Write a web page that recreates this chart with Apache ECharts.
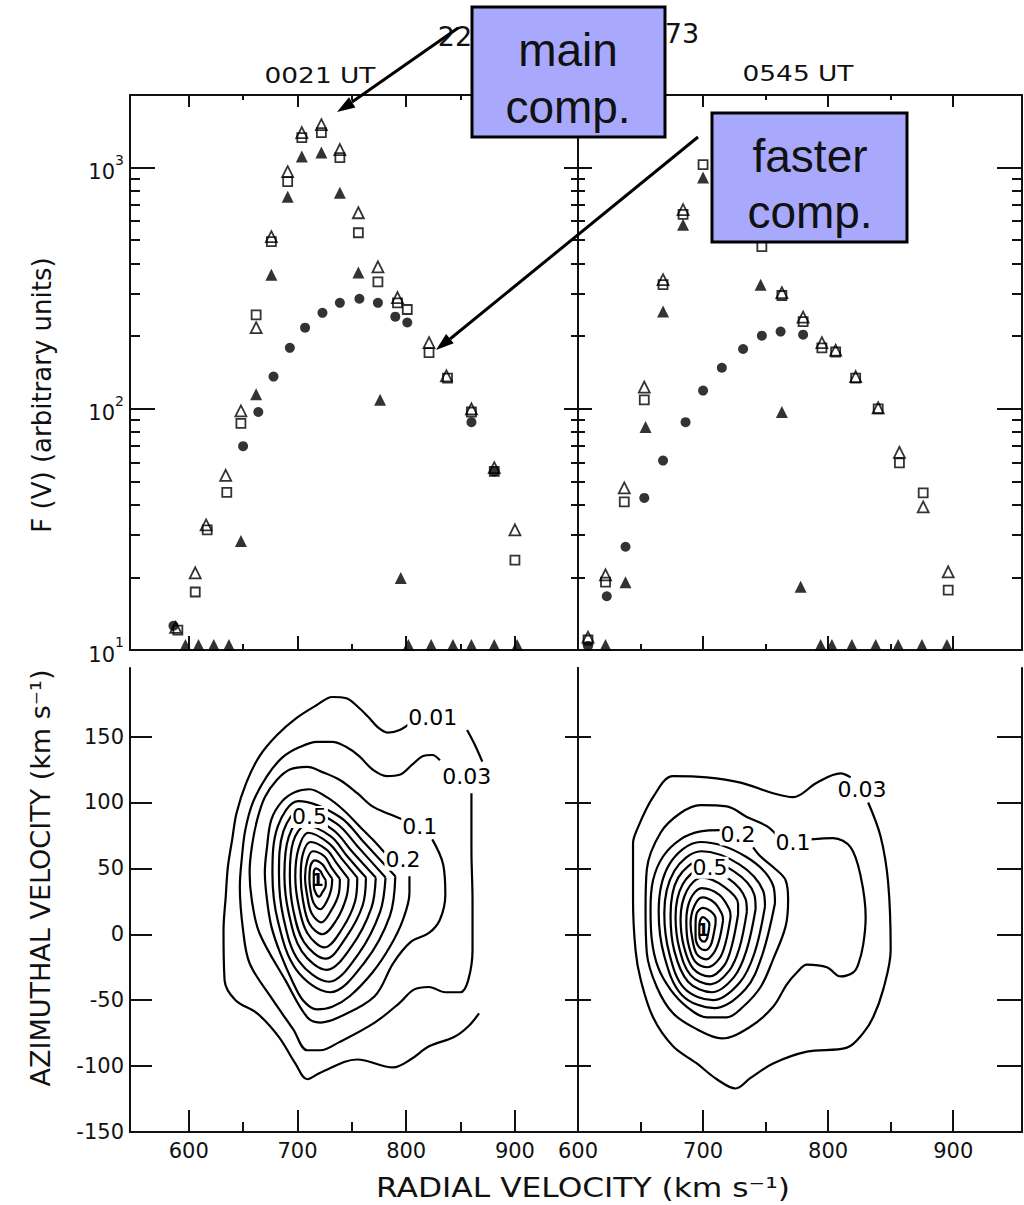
<!DOCTYPE html>
<html><head><meta charset="utf-8">
<script src="https://cdn.jsdelivr.net/npm/echarts@6/dist/echarts.min.js"></script>
<style>html,body{margin:0;padding:0;background:#fff}#c{width:1024px;height:1205px}</style>
</head><body><div id="c"></div>
<script>
// ---------- tick values / labels ----------
const xTicksMajor = [600, 700, 800, 900];
const xTicksMinor = [650, 750, 850];
const topYMajor = [10, 100, 1000];
const topYMinor = [20,30,40,50,60,70,80,90,200,300,400,500,600,700,800,900];
const topYExp = ['1', '2', '3'];
const bottomYTicks = [-150, -100, -50, 0, 50, 100, 150];

// ---------- top-left (0021 UT) F(V) ----------
const tlOpenTri = [[588,12.4],[606,20.9],[616,33],[634,53],[648,98],[662,217],[676,517],[691,962],[704,1397],[722,1507],[739,1188],[756,650],[774,388],[792,289],[821,188],[837,137],[860,100],[881,57],[900,31.5]];
const tlOpenSq = [[590,12.1],[606,17.4],[617,31.5],[635,45],[648,87],[662,245],[676,493],[691,875],[704,1331],[722,1397],[739,1099],[756,537],[774,336],[792,275],[801,258],[821,171],[838,134],[860,97],[881,55],[900,23.6]];
const tlFillTri = [[597,10.5],[609,10.5],[623,10.5],[637,10.5],[648,28.3],[662,115],[676,360],[691,758],[704,1111],[722,1154],[739,787],[756,367],[776,109],[795,19.9],[802,10.5],[823,10.5],[843,10.5],[860,10.5],[881,10.5],[902,10.5]];
const tlFillCirc = [[586,12.6],[650,70],[664,97],[678,136],[693,179],[707,217],[723,250],[739,275],[757,286],[774,275],[790,241],[801,228],[860,88],[881,55]];

// ---------- top-right (0545 UT) F(V) ----------
const trOpenTri = [[608,11.3],[622,20.5],[637,47],[653,123],[668,343],[684,669],[763,303],[780,240],[795,188],[806,175],[822,136],[840,101],[857,66],[876,39.2],[896,21.1]];
const trOpenSq = [[608,11],[622,19.1],[637,41.1],[653,109],[668,327],[684,640],[700,1028],[747,470],[763,295],[780,230],[795,179],[806,172],[822,134],[840,100],[857,59.7],[876,44.8],[896,17.7]];
const trFillTri = [[622,10.5],[638,19.1],[654,84],[668,253],[684,580],[700,909],[746,327],[763,97],[778,18.3],[794,10.5],[803,10.5],[819,10.5],[838,10.5],[856,10.5],[875,10.5],[895,10.5]];
const trFillCirc = [[608,10.4],[623,16.7],[638,26.8],[653,42.7],[668,61],[686,88],[700,119],[715,148],[732,177],[747,201],[762,209],[780,203]];

// ---------- bottom-left contours (radial, azimuthal) ----------
const blC001 = [[805,161],[794,155],[783,153],[774,157],[765,165],[755,173],[745,179],[732,180],[718,174],[699,164],[681,151],[665,135],[653,115],[644,92],[640,72],[636,51],[634,28],[632,3],[633,-35],[643,-50],[663,-60],[683,-78],[698,-98],[709,-110],[721,-105],[755,-95],[788,-101],[804,-95],[821,-85],[844,-78],[857,-70],[867,-60]];
const blC001b = [[856,155],[863,144],[870,131]];
const blC003 = [[831,132],[824,136],[815,135],[806,129],[794,121],[782,120],[769,125],[757,135],[745,142],[732,146],[718,146],[702,142],[686,134],[672,120],[659,100],[652,79],[649,59],[647,36],[650,3],[656,-22],[675,-47],[696,-72],[709,-88],[721,-88],[738,-82],[771,-67],[794,-52],[807,-42],[821,-40],[836,-44],[850,-44],[857,-35],[861,-12],[861,26],[860,64],[860,107]];
const blC01 = [[797,87],[785,91],[769,97],[755,107],[739,117],[723,123],[709,127],[693,125],[681,117],[670,104],[663,87],[658,66],[656,47],[658,26],[665,1],[689,-35],[709,-63],[721,-67],[738,-63],[771,-47],[788,-22],[804,-6],[821,1],[831,11],[836,30],[834,53],[824,72]];
const blC02 = [[780,62],[769,72],[757,82],[742,94.5],[727,104],[711,110],[698,108],[686,101],[676,87],[672,66],[670,47],[672,26],[676,6],[684,-14],[695,-35],[705,-50],[718,-57],[732,-55],[748,-47],[769,-29],[785,-9.5],[797,11],[803,31.5],[803,44]];
const blInner = [
 [[726,41],[726,37],[723,32],[720,28.5],[717,31],[715,36.5],[715,42],[715,47],[717,50],[721,48],[723,45],[726,41]],
 [[732,42],[731,34],[727,25],[721,19],[715,23.5],[712,33],[711,42],[712,52],[716,56],[723,53],[727,48],[732,42]],
 [[739,42],[738,31],[731,18],[722,9],[713,16],[709,29],[707,43],[709,56],[714,63],[725,59],[731,51],[739,42]],
 [[747,42],[745,28],[736,11],[723,0],[711,8],[705,26],[703,44],[705,61],[712,70],[727,64],[736,54],[747,42]],
 [[755,43],[753,25],[741,4],[725,-10],[709,1],[701,22],[698,44],[701,65],[710,77],[729,69],[741,57],[755,43]],
 [[763,43],[760,22],[745,-2],[726,-18.5],[706,-6],[696,19],[693,45],[696,70],[708,82.5],[731,74],[745,60],[763,43]],
 [[772,43],[768,20],[750,-9],[727,-27],[704,-13],[692,16],[688,45],[692,74],[706,89],[733,79],[750,63],[772,43]],
 [[781,43],[776,17],[756,-15],[729,-36],[701,-20],[687,13],[683,46],[687,78],[704,95],[736,84],[756,66],[781,43]],
 [[790,44],[785,14],[762,-21],[730,-44],[699,-27],[682,10],[677,46],[682,82],[701,101],[739,89],[762,69],[790,44]]
];
const blLabels = [[824.5,164.4,'0.01'],[855.7,119.6,'0.03'],[812.5,81.6,'0.1'],[797,56.6,'0.2'],[711,89,'0.5']];
const blPeak = [[718.7,41,'1']];

// ---------- bottom-right contours ----------
const brC003 = [[832,100],[842,74],[848,39],[850,-12],[844,-42],[836,-63],[828,-75],[815,-86],[783,-89],[756,-98],[738,-109],[726,-117],[711,-110],[695,-98],[676,-85],[660,-63],[650,-34],[646,-12],[644,26],[644,69],[647,79],[660,104],[676,120],[703,119],[730,115],[756,107],[772,104],[791,115],[810,122],[818,119]];
const brC01 = [[786,72],[804,73],[818,66],[826,44],[830,13],[828,-8],[824,-23],[820,-29],[810,-32],[799,-25],[783,-23],[775,-29],[767,-38],[756,-55],[738,-70],[715,-79],[695,-72],[676,-60],[663,-40],[655,-14],[654,19],[655,49],[666,77],[682,92],[698,98],[719,97],[735,89],[751,82],[759,75]];
const brC02 = [[714,79],[698,78],[682,72],[668,59],[660,41],[658,19],[659,-4],[664,-25],[674,-42],[687,-55],[703,-63],[719,-63],[732,-55],[746,-40],[756,-19],[766,6],[768,26],[766,41],[756,51],[746,59],[740,66]];
const brInner = [
 [[705,6],[704,0],[703,-3.5],[701,-5.6],[698,-4],[697,0],[697,5],[697.5,10],[700,13],[703,11],[705,8],[705,6]],
 [[710,8],[708,-2],[706,-8.5],[702,-12],[697,-10],[694,-2],[694,7],[695,16],[700,20],[706,17.5],[710,12],[710,8]],
 [[716,10.6],[713,-4],[709,-13.5],[702.5,-19],[695,-15],[691.5,-4],[690,8],[693,21.5],[699.5,28],[709,24],[715,15.5],[716,10.6]],
 [[722,13],[718,-6.5],[713,-18.5],[703.5,-25],[693.6,-20.7],[688,-6.5],[686.6,10],[690,27],[699,35],[712.8,30],[721,19],[722,13]],
 [[728,15],[723,-8.7],[717,-23.5],[705,-32],[692,-26],[684.5,-8.7],[682,11.5],[687,33],[699,43],[717,36],[728,23],[728,15]],
 [[735,17],[729,-10.6],[720.6,-28],[706,-38],[690,-31],[681,-10.6],[678,13],[683.6,37.7],[699,49.5],[720.6,42],[734,26.6],[735,17]],
 [[742,19],[734.6,-12.6],[724.7,-32.5],[707,-44],[688,-36],[677,-12.6],[674,14.4],[680,42.8],[699,56],[724.7,47.7],[741,30],[742,19]],
 [[749.5,21],[741,-14.6],[729,-37],[708,-50],[685,-41],[673,-14.6],[669,16],[677,48],[698.5,63],[729,53],[748,33],[749.5,21]],
 [[757.5,23.5],[747,-16.6],[734,-41.5],[709,-56],[683,-46],[669,-16.6],[664.5,17],[673,53],[698,70],[734,59],[756,37],[757.5,23.5]]
];
const brLabels = [[827,109.7,'0.03'],[772,69.6,'0.1'],[728,75.6,'0.2'],[705.6,50.5,'0.5']];
const brPeak = [[700,3.4,'1']];

// ---------- layout ----------
const FONT = 'DejaVu Sans';
const LEFT_X = [546, 958], RIGHT_X = [600, 955];
const TOP_Y = [10, 2000], BOT_Y = [-150, 202];

const grids = [
  {left:130, top:95, width:448, height:555},
  {left:578, top:95, width:444, height:555},
  {left:130, top:668, width:448, height:464},
  {left:578, top:668, width:444, height:464}
].map(g => Object.assign({containLabel:false, outerBoundsMode:'none'}, g));

function mkAxis(gridIndex, position, range, o) {
  o = o || {};
  const a = {
    type: o.type || 'value', gridIndex, position, min: range[0], max: range[1],
    axisLine: {show: !!o.line, onZero:false, lineStyle: {color:'#111', width:2}},
    axisTick: {show: !!o.ticks, inside: true, length: o.len || 10, lineStyle: {color:'#111', width:2}},
    axisLabel: {show: !!o.labels, color:'#111', fontSize:21, fontFamily:FONT, margin: o.margin || 8},
    splitLine: {show:false}, minorTick: {show:false}, minorSplitLine:{show:false}
  };
  if (o.type === 'log') a.logBase = 10;
  if (o.ticks) a.axisTick.customValues = o.ticks;
  if (o.labels) a.axisLabel.customValues = o.labels;
  if (o.fmt) a.axisLabel.formatter = o.fmt;
  if (o.rich) a.axisLabel.rich = o.rich;
  return a;
}

const xAxis = [
  mkAxis(0,'bottom',LEFT_X,{line:true,ticks:xTicksMajor,len:14}),
  mkAxis(0,'bottom',LEFT_X,{ticks:xTicksMinor,len:6}),
  mkAxis(0,'top',LEFT_X,{line:true,ticks:xTicksMajor,len:12}),
  mkAxis(0,'top',LEFT_X,{ticks:xTicksMinor,len:5}),
  mkAxis(1,'bottom',RIGHT_X,{line:true,ticks:xTicksMajor,len:14}),
  mkAxis(1,'bottom',RIGHT_X,{ticks:xTicksMinor,len:6}),
  mkAxis(1,'top',RIGHT_X,{line:true,ticks:xTicksMajor,len:12}),
  mkAxis(1,'top',RIGHT_X,{ticks:xTicksMinor,len:5}),
  mkAxis(2,'bottom',LEFT_X,{line:true,ticks:xTicksMajor,labels:xTicksMajor,len:22,margin:8}),
  mkAxis(2,'bottom',LEFT_X,{ticks:xTicksMinor,len:10}),
  mkAxis(3,'bottom',RIGHT_X,{line:true,ticks:xTicksMajor,labels:xTicksMajor,len:22,margin:8}),
  mkAxis(3,'bottom',RIGHT_X,{ticks:xTicksMinor,len:10})
];

const expFmt = v => {
  const i = Math.round(Math.log10(v)) - 1;
  return '{b|10}{s|' + (topYExp[i] || '') + '}';
};
const expRich = {
  b: {fontSize:21, fontFamily:FONT, color:'#111', lineHeight:30, verticalAlign:'bottom'},
  s: {fontSize:14, fontFamily:FONT, color:'#111', lineHeight:14, verticalAlign:'top'}
};

const yAxis = [
  mkAxis(0,'left',TOP_Y,{type:'log',line:true,ticks:topYMajor,labels:topYMajor,fmt:expFmt,rich:expRich,len:25,margin:6}),
  mkAxis(0,'left',TOP_Y,{type:'log',ticks:topYMinor,len:10}),
  mkAxis(0,'right',TOP_Y,{type:'log',line:true,ticks:topYMajor,len:14}),
  mkAxis(0,'right',TOP_Y,{type:'log',ticks:topYMinor,len:7}),
  mkAxis(1,'left',TOP_Y,{type:'log',line:true,ticks:topYMajor,len:14}),
  mkAxis(1,'left',TOP_Y,{type:'log',ticks:topYMinor,len:7}),
  mkAxis(1,'right',TOP_Y,{type:'log',line:true,ticks:topYMajor,len:25}),
  mkAxis(1,'right',TOP_Y,{type:'log',ticks:topYMinor,len:10}),
  mkAxis(2,'left',BOT_Y,{line:true,ticks:bottomYTicks,labels:bottomYTicks,len:22,margin:6}),
  mkAxis(2,'right',BOT_Y,{line:true,ticks:bottomYTicks,len:13}),
  mkAxis(3,'left',BOT_Y,{line:true,ticks:bottomYTicks,len:13}),
  mkAxis(3,'right',BOT_Y,{line:true,ticks:bottomYTicks,len:25})
];

const series = [];
function markers(ax, data, symbol, size, filled) {
  series.push({
    type:'scatter', xAxisIndex:ax, yAxisIndex:ax, data, symbol, symbolSize:size,
    itemStyle: filled ? {color:'#000', borderWidth:0} : {color:'rgba(0,0,0,0)', borderColor:'#000', borderWidth:1.8},
    z: 5, silent:true
  });
}
markers(0, tlOpenSq, 'rect', 9, false);
markers(0, tlOpenTri, 'triangle', 11, false);
markers(0, tlFillTri, 'triangle', 12, true);
markers(0, tlFillCirc, 'circle', 10, true);
markers(4, trOpenSq, 'rect', 9, false);
markers(4, trOpenTri, 'triangle', 11, false);
markers(4, trFillTri, 'triangle', 12, true);
markers(4, trFillCirc, 'circle', 10, true);

function contour(ax, data) {
  series.push({
    type:'line', xAxisIndex:ax, yAxisIndex:ax, data, symbol:'none', smooth:0.35,
    lineStyle:{color:'#000', width:2.2}, z:3, silent:true, clip:false
  });
}
[blC001, blC001b, blC003, blC01, blC02].concat(blInner).forEach(d => contour(8, d));
[brC003, brC01, brC02].concat(brInner).forEach(d => contour(10, d));

function labels(ax, data, size, bg, weight) {
  series.push({
    type:'scatter', xAxisIndex:ax, yAxisIndex:ax, data, symbolSize:2,
    itemStyle:{color:'#fff', opacity:1}, z:6, silent:true,
    label:{show:true, position:'inside', formatter: p => p.value[2], color:'#000', opacity:1,
      textBorderWidth:0, fontWeight: weight || 'normal',
      fontSize:size, fontFamily:FONT, backgroundColor: bg ? '#fff' : 'rgba(0,0,0,0)', padding:[0,1]}
  });
}
labels(8, blLabels, 22, true);
labels(10, brLabels, 22, true);
labels(8, blPeak, 17, false, 'bold');
labels(10, brPeak, 17, false, 'bold');

const txt = (x, y, text, font, extra) => Object.assign({
  type:'text', x, y, z:10,
  style:{text, font, fill:'#111', align:'center', verticalAlign:'middle'}
}, extra || {});

const graphic = [
  txt(455, 36, '22', '27px "DejaVu Sans"'),
  txt(682, 33, '73', '27px "DejaVu Sans"'),
  txt(320, 75, '0021 UT', '22px "DejaVu Sans"', {scaleX:1.2}),
  txt(798, 73, '0545 UT', '22px "DejaVu Sans"', {scaleX:1.2}),
  txt(42, 395, 'F (V) (arbitrary units)', '26px "DejaVu Sans"', {rotation:Math.PI/2}),
  txt(40, 878, 'AZIMUTHAL VELOCITY (km s⁻¹)', '27px "DejaVu Sans"', {rotation:Math.PI/2}),
  txt(583, 1188, 'RADIAL VELOCITY (km s⁻¹)', '27px "DejaVu Sans"', {scaleX:1.16}),
  // arrows
  {type:'line', z:20, shape:{x1:458, y1:28, x2:352, y2:102}, style:{stroke:'#000', lineWidth:3}},
  {type:'polygon', z:20, shape:{points:[[337,112],[355.4,107.4],[349,97.3]]}, style:{fill:'#000'}},
  {type:'line', z:20, shape:{x1:698, y1:137, x2:450, y2:339}, style:{stroke:'#000', lineWidth:3}},
  {type:'polygon', z:20, shape:{points:[[436,350],[453.7,343.3],[446.1,334]]}, style:{fill:'#000'}},
  // boxes
  {type:'rect', z:30, shape:{x:472, y:7, width:193, height:130}, style:{fill:'#a8a9fc', stroke:'#000', lineWidth:3}},
  txt(568, 50, 'main', '46px "Liberation Sans"', {z:31}),
  txt(568, 107, 'comp.', '46px "Liberation Sans"', {z:31}),
  {type:'rect', z:30, shape:{x:712, y:113, width:195, height:129}, style:{fill:'#a8a9fc', stroke:'#000', lineWidth:3}},
  txt(810, 156, 'faster', '46px "Liberation Sans"', {z:31}),
  txt(810, 212, 'comp.', '46px "Liberation Sans"', {z:31})
];

const chart = echarts.init(document.getElementById('c'), null, {renderer:'svg', width:1024, height:1205});
chart.setOption({
  animation:false, backgroundColor:'#fff',
  grid: grids, xAxis, yAxis, series,
  graphic: {elements: graphic}
});
</script></body></html>
